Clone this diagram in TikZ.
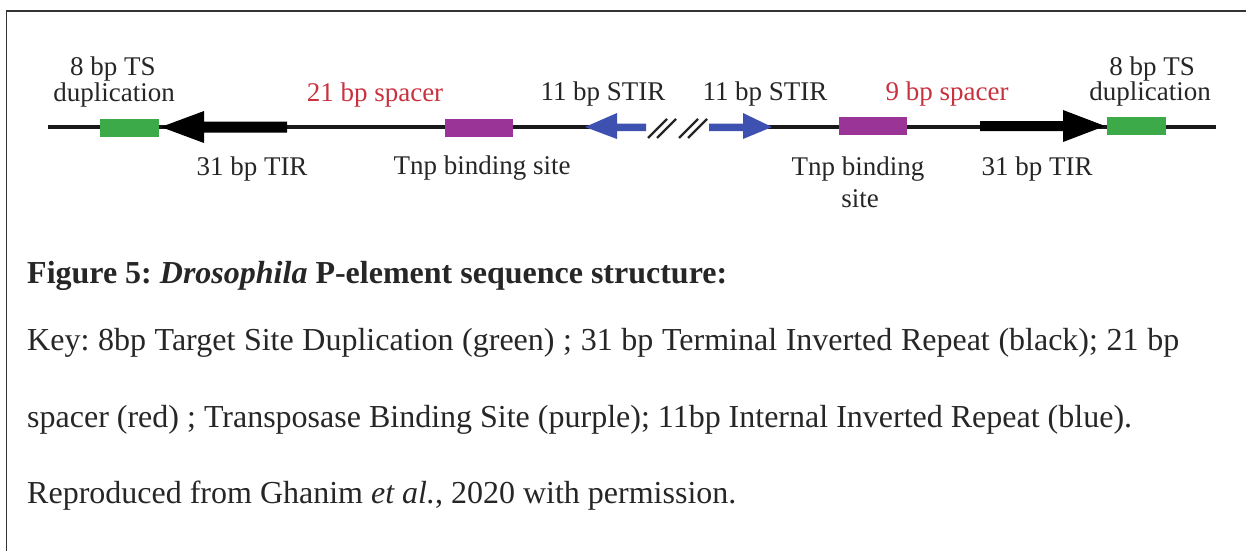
\documentclass[tikz,border=0pt]{standalone}
\usepackage{fontspec}
\setmainfont{Liberation Serif}
\definecolor{txt}{HTML}{262626}
\definecolor{spred}{HTML}{C8323F}
\definecolor{tsgreen}{HTML}{3DAA4A}
\definecolor{tnppurple}{HTML}{9A3497}
\definecolor{stirblue}{HTML}{3F51B0}
\definecolor{framec}{HTML}{333333}
\frenchspacing
\begin{document}
\begin{tikzpicture}[x=1pt,y=-1pt]
\tikzset{
  lbl/.style={font=\fontsize{27}{32}\selectfont, text=txt, anchor=base, inner sep=0pt},
  redlbl/.style={lbl, text=spred},
  capline/.style={font=\fontsize{32}{38}\selectfont, text=txt, anchor=base west, inner sep=0pt},
  dna/.style={line width=3.5pt, draw=black!90},
  tsbox/.style={fill=tsgreen, draw=none, minimum width=59pt, minimum height=18pt, inner sep=0pt},
  tnpbox/.style={fill=tnppurple, draw=none, minimum width=68pt, minimum height=18pt, inner sep=0pt},
  brk/.style={line width=2.4pt, draw=black!85},
  framestyle/.style={line width=1.5pt, draw=framec}
}
\useasboundingbox (0,0) rectangle (1246,550);
% frame
\draw[framestyle] (6.5,551) -- (6.5,11) -- (1247,11);

% DNA backbone
\coordinate (l0) at (48,127);
\coordinate (l1) at (646,127);
\coordinate (r0) at (709,127);
\coordinate (r1) at (1216,127);
\draw[dna] (l0) -- (l1);
\draw[dna] (r0) -- (r1);

% boxes
\node[tsbox] (ts1) at (129.5,128) {};
\node[tsbox] (ts2) at (1136,126) {};
\node[tnpbox] (tnp1) at (479,128) {};
\node[tnpbox] (tnp2) at (873,126) {};

% black TIR arrows
\fill[black] (287,121.5) -- (204,121.5) -- (204,111) -- (161,127) -- (204,143) -- (204,132.5) -- (287,132.5) -- cycle;
\fill[black] (980,121) -- (1063,121) -- (1063,110) -- (1105,126) -- (1063,142) -- (1063,131) -- (980,131) -- cycle;

% blue STIR arrows
\fill[stirblue] (646,123.5) -- (617,123.5) -- (617,113) -- (585,127) -- (617,139) -- (617,131) -- (646,131) -- cycle;
\fill[stirblue] (709,123.5) -- (743,123.5) -- (743,113) -- (772,127) -- (743,139) -- (743,131) -- (709,131) -- cycle;

% break marks
\draw[brk] (648,138) -- (667,119);
\draw[brk] (657,138) -- (676,119);
\draw[brk] (679,138) -- (698,119);
\draw[brk] (688,138) -- (707,119);

% labels
\node[lbl] (tsa1) at (113,75) {8 bp TS};
\node[lbl] (tsb1) at (114,101) {duplication};
\node[redlbl] (sp21) at (375,101) {21 bp spacer};
\node[lbl] (stir1) at (603,100) {11 bp STIR};
\node[lbl] (stir2) at (765,100) {11 bp STIR};
\node[redlbl] (sp9) at (947,100) {9 bp spacer};
\node[lbl] (tsa2) at (1152,75) {8 bp TS};
\node[lbl] (tsb2) at (1150,100) {duplication};
\node[lbl] (tir1) at (252,175) {31 bp TIR};
\node[lbl] (tnpl1) at (482,174) {Tnp binding site};
\node[lbl] (tnpl2a) at (858,175) {Tnp binding};
\node[lbl] (tnpl2b) at (860,207) {site};
\node[lbl] (tir2) at (1037,175) {31 bp TIR};

% caption
\node[capline] (cap1) at (27,283) {\textbf{Figure 5: \textit{Drosophila} P-element sequence structure:}};
\node[capline] (cap2) at (27,350) {\makebox[1152pt][s]{Key: 8bp Target Site Duplication (green) ; 31 bp Terminal Inverted Repeat (black); 21 bp}};
\node[capline] (cap3) at (27,427) {spacer (red) ; Transposase Binding Site (purple); 11bp Internal Inverted Repeat (blue).};
\node[capline] (cap4) at (27,503) {Reproduced from Ghanim \textit{et al.}, 2020 with permission.};
\end{tikzpicture}
\end{document}
